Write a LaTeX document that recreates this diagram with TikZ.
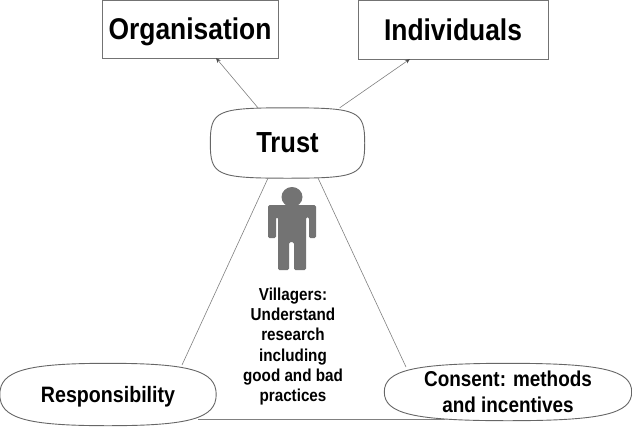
\documentclass[tikz,border=0pt]{standalone}
\usepackage{fontspec}
\setmainfont{Liberation Sans}[FakeStretch=0.88]
\usetikzlibrary{arrows.meta,calc}
\tikzset{
  boxnode/.style={draw=black!55, line width=0.9pt, text depth=0pt, font=\bfseries\fontsize{30}{30}\selectfont},
  ovalnode/.style={font=\bfseries\fontsize{21.5}{26}\selectfont, align=center},
  link/.style={draw=black!50, line width=0.6pt},
  tiplink/.style={link, -{Stealth[length=5pt,width=4pt,color=black!70]}},
}
% outline of an oval node, #2 sets how square its corners are
\newcommand{\ovalline}[2]{
  \draw[black!60, line width=0.9pt]
    (#1.west) .. controls ($(#1.west)!#2!(#1.north west)$) and ($(#1.north)!#2!(#1.north west)$) .. (#1.north)
    .. controls ($(#1.north)!#2!(#1.north east)$) and ($(#1.east)!#2!(#1.north east)$) .. (#1.east)
    .. controls ($(#1.east)!#2!(#1.south east)$) and ($(#1.south)!#2!(#1.south east)$) .. (#1.south)
    .. controls ($(#1.south)!#2!(#1.south west)$) and ($(#1.west)!#2!(#1.south west)$) .. (#1.west);
}
\begin{document}
\begin{tikzpicture}[x=1pt, y=-1pt]
  \useasboundingbox (0,0) rectangle (632,426);
  \node[boxnode, minimum width=176pt, minimum height=58pt] (org) at (190,29) {Organisation};
  \node[boxnode, minimum width=190pt, minimum height=59pt] (ind) at (453,29.5) {Individuals};
  \node[inner sep=0pt, minimum width=154pt, minimum height=70pt, font=\bfseries\fontsize{29}{30}\selectfont] (trust) at (287.5,143) {Trust};
  \node[ovalnode, inner sep=0pt, minimum width=216pt, minimum height=62pt, text depth=0pt, font=\bfseries\fontsize{22.3}{26}\selectfont] (resp) at (108,394.5) {Responsibility};
  \node[ovalnode, inner sep=0pt, minimum width=247pt, minimum height=57pt] (cons) at (508,392) {Consent: methods\\and incentives};
  \ovalline{trust}{0.92}
  \ovalline{resp}{0.76}
  \ovalline{cons}{0.76}
  % links
  \coordinate (orgend) at (216,58);
  \coordinate (indend) at (410,59);
  \coordinate (respend) at (182,365);
  \coordinate (consend) at (406,367);
  \draw[tiplink] (trust.130) -- (orgend);
  \draw[tiplink] (trust.34) -- (indend);
  \draw[link] (trust.-119) -- (respend);
  \draw[link] (trust.-49) -- (consend);
  \coordinate (baseleft) at (198,419);
  \coordinate (baseright) at (445,419);
  \draw[link] (baseleft) -- (baseright);
  % villager figure
  \fill[black!55] (292,197) circle [x radius=10.5, y radius=10];
  \fill[black!55, rounded corners=1.5pt]
    (268,205) -- (316,205) -- (316,238) -- (309,238) -- (309,217) -- (306,217) -- (306,270)
    -- (294,270) -- (294,242) -- (289,242) -- (289,270) -- (278,270) -- (278,217) -- (276,217)
    -- (276,238) -- (268,238) -- cycle;
  \node[align=center, font=\bfseries\fontsize{17.3}{20.2}\selectfont, inner sep=0pt] (villagers) at (293,346.5)
    {Villagers:\\Understand\\research\\including\\good and bad\\practices};
\end{tikzpicture}
\end{document}
